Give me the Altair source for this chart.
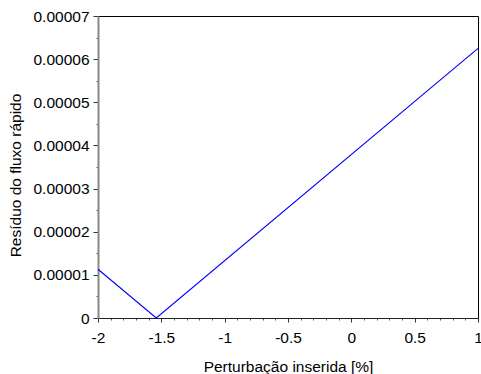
import altair as alt
import pandas as pd

# Residual of the fast flux versus inserted perturbation
perturbacao = [-2.0, -1.54, 1.0]
residuo = [1.13e-5, 0.0, 6.25e-5]

x_major = [-2, -1.5, -1, -0.5, 0, 0.5, 1]
x_minor = [round(-2 + 0.1 * i, 1) for i in range(31)]
y_major = [0, 1e-5, 2e-5, 3e-5, 4e-5, 5e-5, 6e-5, 7e-5]
y_minor = [i * 5e-6 for i in range(15)]

df = pd.DataFrame({"x": perturbacao, "y": residuo})

FONT = "Liberation Sans"
FS = 15.5

x_scale = alt.Scale(domain=[-2, 1], nice=False, zero=False)
y_scale = alt.Scale(domain=[0, 7e-5], nice=False)

main = alt.Chart(df).mark_line(color="#0000ff", strokeWidth=1.1).encode(
    x=alt.X("x:Q", scale=x_scale, axis=alt.Axis(
        values=x_major, labelExpr="'' + datum.value", title="Perturbação inserida [%]",
        orient="bottom", grid=False, tickSize=4, tickColor="#333333", domainColor="#222222",
        labelFont=FONT, labelFontSize=FS, labelColor="black", labelPadding=8,
        titleFont=FONT, titleFontSize=FS, titleFontWeight="normal", titleColor="black",
        titlePadding=14, labelFlush=False)),
    y=alt.Y("y:Q", scale=y_scale, axis=alt.Axis(
        values=y_major,
        labelExpr="datum.value == 0 ? '0' : format(datum.value, '.5f')",
        title="Resíduo do fluxo rápido", orient="left", grid=False, tickSize=5,
        tickColor="#333333", domainColor="#888888", domainWidth=2,
        labelFont=FONT, labelFontSize=FS, labelColor="black", labelPadding=4,
        titleFont=FONT, titleFontSize=FS, titleFontWeight="normal", titleColor="black",
        titlePadding=9, titleY=159, labelFlush=False)),
)

minor = alt.Chart(df).mark_line(strokeOpacity=0).encode(
    x=alt.X("x:Q", scale=x_scale, axis=alt.Axis(
        values=x_minor, labels=False, domain=False, grid=False, title=None,
        orient="bottom", tickSize=2, tickColor="#555555")),
    y=alt.Y("y:Q", scale=y_scale, axis=alt.Axis(
        values=y_minor, labels=False, domain=False, grid=False, title=None,
        orient="left", tickSize=2, tickColor="#555555")),
)

chart = alt.layer(minor, main).resolve_axis(x="independent", y="independent").properties(
    width=380, height=302,
    autosize=alt.AutoSizeParams(type="none"),
    padding={"left": 98, "top": 16, "right": 3, "bottom": 56},
    background="white",
).configure_view(stroke="black", strokeWidth=1)

chart.save("out.html", embed_options={"renderer": "svg", "actions": False})
